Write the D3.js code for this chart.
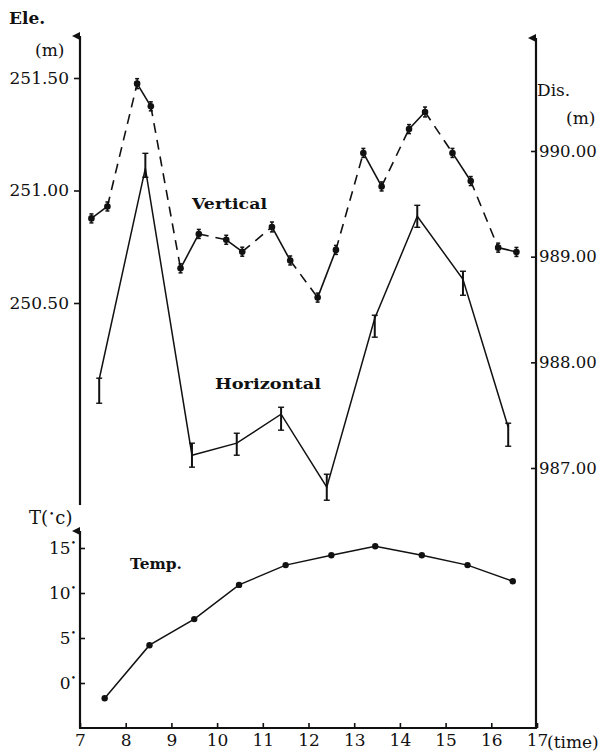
<!DOCTYPE html>
<html>
<head>
<meta charset="utf-8">
<script src="https://cdn.jsdelivr.net/npm/d3@7"></script>
<style>
  body { margin: 0; background: #fff; }
  svg { display: block; }
  text { font-family: "DejaVu Serif", serif; fill: #111; }
</style>
</head>
<body>
<div id="chart"></div>
<script>
// vertical (elevation, left axis) - measured in pairs
const vertTime = [7.25, 7.6, 8.25, 8.55, 9.2, 9.6, 10.2, 10.55, 11.2, 11.6, 12.2, 12.6, 13.2, 13.6, 14.2, 14.55, 15.15, 15.55, 16.15, 16.55];
const vertEle  = [250.876, 250.929, 251.475, 251.374, 250.654, 250.807, 250.781, 250.728, 250.838, 250.689,
                  250.524, 250.736, 251.167, 251.018, 251.273, 251.349, 251.167, 251.042, 250.746, 250.727];
const vertErr  = [0.02, 0.02, 0.022, 0.02, 0.02, 0.02, 0.02, 0.02, 0.022, 0.02,
                  0.02, 0.02, 0.02, 0.02, 0.02, 0.022, 0.02, 0.02, 0.02, 0.02];

// horizontal (distance, right axis)
const horTime = [7.42, 8.43, 9.45, 10.43, 11.4, 12.4, 13.45, 14.38, 15.38, 16.37];
const horDis  = [987.84, 989.836, 987.121, 987.235, 987.509, 986.818, 988.417, 989.382, 988.786, 987.386];
const horHi   = [987.85, 989.978, 987.235, 987.329, 987.575, 986.941, 988.446, 989.486, 988.862, 987.424];
const horLo   = [987.613, 989.751, 987.008, 987.121, 987.358, 986.695, 988.238, 989.278, 988.635, 987.206];

// temperature
const tempTime = [7.54, 8.52, 9.5, 10.48, 11.5, 12.5, 13.46, 14.48, 15.48, 16.47];
const tempVal  = [-1.7, 4.2, 7.1, 10.9, 13.1, 14.2, 15.2, 14.2, 13.1, 11.3];

const eleTicks  = [250.5, 251.0, 251.5];
const disTicks  = [987, 988, 989, 990];
const tempTicks = [0, 5, 10, 15];
const timeTicks = [7, 8, 9, 10, 11, 12, 13, 14, 15, 16, 17];

const width = 614, height = 752;
const svg = d3.select("#chart").append("svg")
    .attr("width", width).attr("height", height);

svg.append("defs").append("marker")
    .attr("id", "arrow")
    .attr("viewBox", "0 0 10 10")
    .attr("refX", 5).attr("refY", 10)
    .attr("markerWidth", 8).attr("markerHeight", 11)
    .attr("markerUnits", "userSpaceOnUse")
    .attr("orient", "auto-start-reverse")
    .append("path").attr("d", "M0,10 L5,0 L10,10 Z").attr("fill", "#111");

const x = d3.scaleLinear().domain([7, 17]).range([80, 537]);
const eleY = d3.scaleLinear().domain([250.5, 251.5]).range([303, 78]);
const disY = d3.scaleLinear().domain([987, 990]).range([468, 151]);
const tY = d3.scaleLinear().domain([-5, 15]).range([728, 548]);

const xL = 80, xR = 536, yBase = 728;
const tickFont = 17;

// axis lines
const axisLine = (x1, y1, x2, y2, arrow) => {
    const l = svg.append("line")
        .attr("x1", x1).attr("y1", y1).attr("x2", x2).attr("y2", y2)
        .attr("stroke", "#111").attr("stroke-width", 2.2);
    if (arrow) l.attr("marker-end", "url(#arrow)");
};
axisLine(xL, 505, xL, 36, true);
axisLine(xL, yBase, xL, 531, true);
axisLine(xR, yBase + 1, xR, 38, true);
axisLine(xL - 1, yBase, xR + 1, yBase, false);

// elevation axis (left)
const eleAxis = svg.append("g").attr("transform", `translate(${xL},0)`)
    .call(d3.axisLeft(eleY).tickValues(eleTicks).tickSize(6).tickPadding(5)
        .tickFormat(d3.format(".2f")));
eleAxis.select(".domain").remove();
eleAxis.selectAll("line").attr("stroke", "#111").attr("stroke-width", 1.6);
eleAxis.selectAll("text").attr("font-size", tickFont).attr("fill", "#111")
    .style("font-family", "DejaVu Serif");

// distance axis (right)
const disAxis = svg.append("g").attr("transform", `translate(${xR},0)`)
    .call(d3.axisRight(disY).tickValues(disTicks).tickSizeInner(-5).tickSizeOuter(0).tickPadding(3)
        .tickFormat(d3.format(".2f")));
disAxis.select(".domain").remove();
disAxis.selectAll("line").attr("stroke", "#111").attr("stroke-width", 1.6);
disAxis.selectAll("text").attr("font-size", tickFont - 0.5).attr("fill", "#111")
    .style("font-family", "DejaVu Serif");

// temperature axis
const tAxis = svg.append("g").attr("transform", `translate(${xL},0)`)
    .call(d3.axisLeft(tY).tickValues(tempTicks).tickSizeInner(-5).tickSizeOuter(0).tickPadding(4)
        .tickFormat(""));
tAxis.select(".domain").remove();
tAxis.selectAll("line").attr("stroke", "#111").attr("stroke-width", 1.6);
tAxis.selectAll(".tick text").each(function(d) {
    const t = d3.select(this).attr("font-size", tickFont).attr("fill", "#111")
        .style("font-family", "DejaVu Serif");
    t.append("tspan").text(d);
    t.append("tspan").text("•").attr("font-size", 9).attr("dy", "-0.9em");
});

// time axis
const xAxis = svg.append("g").attr("transform", `translate(0,${yBase})`)
    .call(d3.axisBottom(x).tickValues(timeTicks).tickSizeInner(-5).tickSizeOuter(0).tickPadding(6)
        .tickFormat(d3.format("d")));
xAxis.select(".domain").remove();
xAxis.selectAll("line").attr("stroke", "#111").attr("stroke-width", 1.6);
xAxis.selectAll("text").attr("font-size", tickFont).attr("fill", "#111")
    .style("font-family", "DejaVu Serif");
svg.append("text").attr("x", 547).attr("y", 748).attr("font-size", tickFont).text("(time)");

// axis titles
svg.append("text").attr("x", 9).attr("y", 24).attr("font-size", 17).attr("font-weight", "bold").text("Ele.");
svg.append("text").attr("x", 35).attr("y", 56).attr("font-size", 17).text("(m)");
svg.append("text").attr("x", 537).attr("y", 96).attr("font-size", 17).text("Dis.");
svg.append("text").attr("x", 566).attr("y", 124).attr("font-size", 17).text("(m)");
const tTitle = svg.append("text").attr("x", 29).attr("y", 524).attr("font-size", 18);
tTitle.append("tspan").text("T(");
tTitle.append("tspan").text("•").attr("font-size", 9).attr("dy", -7).attr("dx", 1);
tTitle.append("tspan").text("c)").attr("font-size", 18).attr("dy", 7).attr("dx", 1);

// vertical series: solid within a pair, dashed between pairs
const vLine = d3.line().x(d => x(d[0])).y(d => eleY(d[1]));
const vPts = vertTime.map((t, i) => [t, vertEle[i], vertErr[i]]);
for (let i = 0; i < vPts.length - 1; i++) {
    svg.append("path")
        .attr("d", vLine([vPts[i], vPts[i + 1]]))
        .attr("fill", "none").attr("stroke", "#111").attr("stroke-width", 1.6)
        .attr("stroke-dasharray", i % 2 === 0 ? null : "10,7");
}
const vErr = svg.append("g").attr("stroke", "#111").attr("stroke-width", 1.5);
vPts.forEach(d => {
    const cx = x(d[0]);
    vErr.append("line").attr("x1", cx).attr("x2", cx)
        .attr("y1", eleY(d[1] - d[2])).attr("y2", eleY(d[1] + d[2]));
    [d[1] - d[2], d[1] + d[2]].forEach(v => vErr.append("line")
        .attr("x1", cx - 2).attr("x2", cx + 2).attr("y1", eleY(v)).attr("y2", eleY(v)));
});
svg.append("g").selectAll("circle").data(vPts).join("circle")
    .attr("cx", d => x(d[0])).attr("cy", d => eleY(d[1])).attr("r", 3.3).attr("fill", "#111");

// horizontal series
const hPts = horTime.map((t, i) => ({ t, v: horDis[i], lo: horLo[i], hi: horHi[i] }));
svg.append("path")
    .attr("d", d3.line().x(d => x(d.t)).y(d => disY(d.v))(hPts))
    .attr("fill", "none").attr("stroke", "#111").attr("stroke-width", 1.5);
const hErr = svg.append("g").attr("stroke", "#111");
hPts.forEach(d => {
    const cx = x(d.t);
    hErr.append("line").attr("x1", cx).attr("x2", cx)
        .attr("y1", disY(d.lo)).attr("y2", disY(d.hi)).attr("stroke-width", 2);
    [d.lo, d.hi].forEach(v => hErr.append("line").attr("stroke-width", 1.4)
        .attr("x1", cx - 3).attr("x2", cx + 3).attr("y1", disY(v)).attr("y2", disY(v)));
});

// temperature series
const tPts = tempTime.map((t, i) => [t, tempVal[i]]);
svg.append("path")
    .attr("d", d3.line().x(d => x(d[0])).y(d => tY(d[1]))(tPts))
    .attr("fill", "none").attr("stroke", "#111").attr("stroke-width", 1.5);
svg.append("g").selectAll("circle").data(tPts).join("circle")
    .attr("cx", d => x(d[0])).attr("cy", d => tY(d[1])).attr("r", 3.2).attr("fill", "#111");

// series labels
const seriesLabel = (txt, xx, yy, len) => svg.append("text")
    .attr("x", xx).attr("y", yy).attr("font-size", 14).attr("font-weight", "bold")
    .attr("textLength", len).attr("lengthAdjust", "spacingAndGlyphs").text(txt);
seriesLabel("Vertical", 192, 209, 75);
seriesLabel("Horizontal", 215, 389, 106);
seriesLabel("Temp.", 130, 569, 52);
</script>
</body>
</html>
